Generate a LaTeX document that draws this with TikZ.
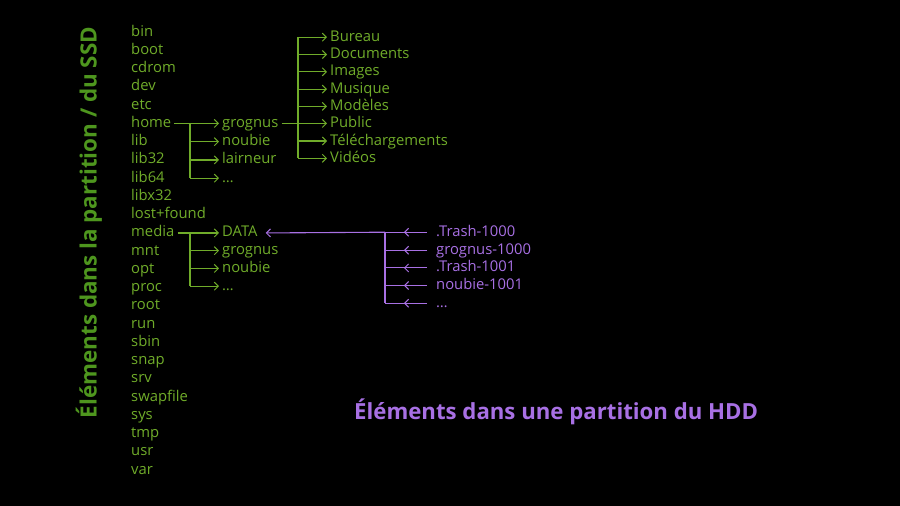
\documentclass[tikz,border=0pt]{standalone}
\usepackage{fontspec}
\setmainfont{Open Sans}
\usetikzlibrary{arrows.meta,decorations.markings}
\definecolor{gtext}{RGB}{112,172,42}
\definecolor{gtitle}{RGB}{78,150,30}
\definecolor{ptext}{RGB}{168,112,228}
\begin{document}
\begin{tikzpicture}[x=1pt,y=-1pt,
  item/.style={anchor=west,inner sep=0pt,text=gtext,font=\fontsize{14.8}{17}\selectfont,text height=11pt,text depth=3pt},
  pitem/.style={item,text=ptext},
  gl/.style={draw=gtext,line width=1.1pt},
  ga/.style={gl,-{Straight Barb[length=4pt,width=8pt,line width=1pt]},shorten >=3pt},
  pl/.style={draw=ptext,line width=1.1pt},
  pmid/.style={pl,postaction={decorate},decoration={markings,mark=at position 0.55 with {\arrow{Straight Barb[length=4pt,width=8pt,line width=1pt]}}}},
  pa/.style={pl,-{Straight Barb[length=4pt,width=8pt,line width=1pt]}}
]
\fill[black] (0,0) rectangle (900,506);
\useasboundingbox (0,0) rectangle (900,506);
\begin{scope}[yshift=-2.2pt]
% left list
\foreach \n/\t/\y in {bin/bin/30,boot/boot/48.25,cdrom/cdrom/66.5,dev/dev/84.75,etc/etc/103,home/home/121.25,lib/lib/139.5,libtt/lib32/157.75,libsf/lib64/176,libx/libx32/194.25,lost/lost+found/212.5,media/media/230.75,mnt/mnt/249,opt/opt/267.25,proc/proc/285.5,root/root/303.75,run/run/322,sbin/sbin/340.25,snap/snap/358.5,srv/srv/376.75,swap/swapfile/395,sys/sys/413.25,tmp/tmp/431.5,usr/usr/449.75,var/var/468}
  \node[item] (\n) at (131,\y) {\t};
% home children
\node[item] (grognus) at (222,121.25) {grognus};
\node[item] (noubie) at (222,139.5) {noubie};
\node[item] (lairneur) at (222,157.75) {lairneur};
\node[item] (hdots) at (222,176) {…};
\coordinate (hj) at (190,121.25);
\draw[gl] ([xshift=3pt]home.east) -- (hj);
\draw[gl] (hj) -- (hj |- hdots);
\foreach \c in {grognus,noubie,lairneur,hdots}
  \draw[ga] (hj |- \c) -- (\c.west);
% grognus children
\foreach \n/\t/\y in {bureau/Bureau/35,docs/Documents/52.3,images/Images/69.6,musique/Musique/86.9,modeles/Modèles/104.2,public/Public/121.25,telech/Téléchargements/138.8,videos/Vidéos/156.1}
  \node[item] (\n) at (330,\y) {\t};
\coordinate (gj) at (298,121.25);
\draw[gl] ([xshift=3pt]grognus.east) -- (gj);
\draw[gl] (gj |- bureau) -- (gj |- videos);
\foreach \c in {bureau,docs,images,musique,modeles,public,telech,videos}
  \draw[ga] (gj |- \c) -- (\c.west);
% media children
\node[item] (data) at (222,230.75) {DATA};
\node[item] (mgrognus) at (222,248.5) {grognus};
\node[item] (mnoubie) at (222,266.25) {noubie};
\node[item] (mdots) at (222,284) {…};
\coordinate (mj) at (190,230.75);
\draw[gl] ([xshift=3pt]media.east) -- (mj);
\draw[gl] (mj) -- (mj |- mdots);
\foreach \c in {data,mgrognus,mnoubie,mdots}
  \draw[ga] (mj |- \c) -- (\c.west);
% DATA contents (purple)
\foreach \n/\t/\y in {trasha/.Trash-1000/230,grognusk/grognus-1000/248,trashb/.Trash-1001/265.7,noubiek/noubie-1001/283.3,pdots/…/301}
  \node[pitem] (\n) at (436,\y) {\t};
\coordinate (pj) at (385,230);
\draw[pl] (pj) -- (pj |- pdots);
\foreach \c in {trasha,grognusk,trashb,noubiek,pdots}
  \draw[pmid] ([xshift=-9pt]\c.west) -- (pj |- \c);
\draw[pa] (pj) -- ([xshift=8pt]data.east);
\end{scope}
% titles
\node[rotate=90,text=gtitle,font=\bfseries\fontsize{22.4}{25}\selectfont,inner sep=0pt] (ssd) at (89,222.5) {Éléments dans la partition / du SSD};
\node[anchor=west,text=ptext,font=\bfseries\fontsize{22.2}{26}\selectfont,inner sep=0pt] (hdd) at (354,412) {Éléments dans une partition du HDD};
\end{tikzpicture}
\end{document}
